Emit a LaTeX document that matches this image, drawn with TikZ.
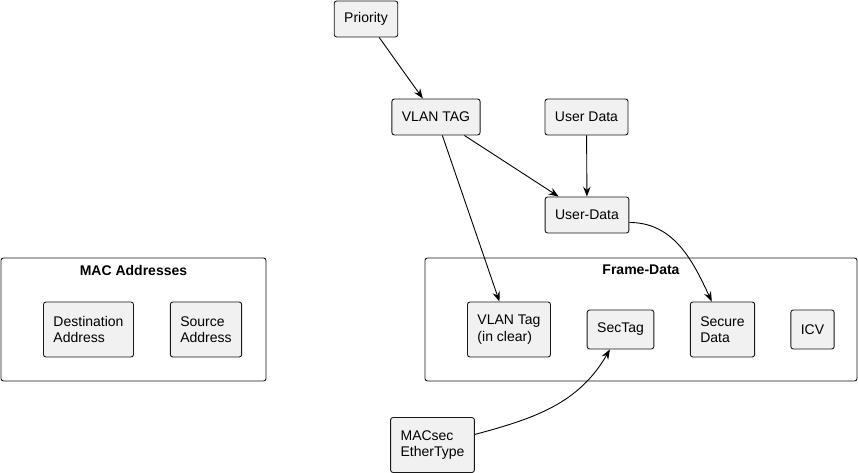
\documentclass[tikz,border=0pt]{standalone}
\usepackage{fontspec}
\setmainfont{Liberation Sans}
\usetikzlibrary{arrows.meta}
\definecolor{boxfill}{HTML}{F1F1F1}
\definecolor{boxline}{HTML}{181818}

\begin{document}
\begin{tikzpicture}[x=1pt,y=-1pt,line width=0.9pt,>={Stealth[length=10pt,width=7.5pt,inset=3.5pt]}]
%\draw[help lines] (0,0) grid[step=50] (858,473);
\tikzstyle{v}=[rectangle,draw=boxline,fill=boxfill,rounded corners=2.5pt,inner xsep=10pt,align=left,minimum height=36pt,font=\fontsize{14}{16.5}\selectfont]
\tikzstyle{grp}=[rectangle,draw=boxline,rounded corners=2.5pt,minimum height=123pt]
\tikzstyle{ttl}=[inner sep=0pt,font=\fontsize{14}{16.5}\selectfont\bfseries]
\useasboundingbox (0,0) rectangle (858,473);

\node[grp,minimum width=265pt] (macs) at (133.5,319.5) {};
\node[ttl] (macsttl) at (133.5,270) {MAC Addresses};
\node[grp,minimum width=432pt] (frame) at (641,319.5) {};
\node[ttl] (framettl) at (641,270) {Frame-Data};

\node[v] (prio) at (366,19) {Priority};
\node[v] (vlan) at (436,117) {VLAN TAG};
\node[v] (udata) at (586.5,117) {User Data};
\node[v] (udc) at (587,215) {User-Data};

\node[v,minimum height=55pt] (dst) at (88.5,329.5) {Destination\\Address};
\node[v,minimum height=55pt] (src) at (206,329.5) {Source\\Address};

\node[v,minimum height=55pt] (vclr) at (509,329.5) {VLAN Tag\\(in clear)};
\node[v,minimum height=39pt] (sectag) at (620.5,329.5) {SecTag};
\node[v,minimum height=55pt] (sdata) at (722.5,329.5) {Secure\\Data};
\node[v,minimum height=39pt] (icv) at (812.5,329.5) {ICV};

\node[v,minimum height=55pt] (ether) at (432.5,445) {MACsec\\EtherType};

\path (prio) edge[->] (vlan);
\path (vlan) edge[->] (udc);
\path (udata) edge[->] (udc);
\path (vlan) edge[->] (vclr);
\path (udc.-10) edge[->,out=0,in=115] (sdata.111);
\path (ether.14) edge[->,out=15,in=-120] (sectag.-118);
\end{tikzpicture}
\end{document}
